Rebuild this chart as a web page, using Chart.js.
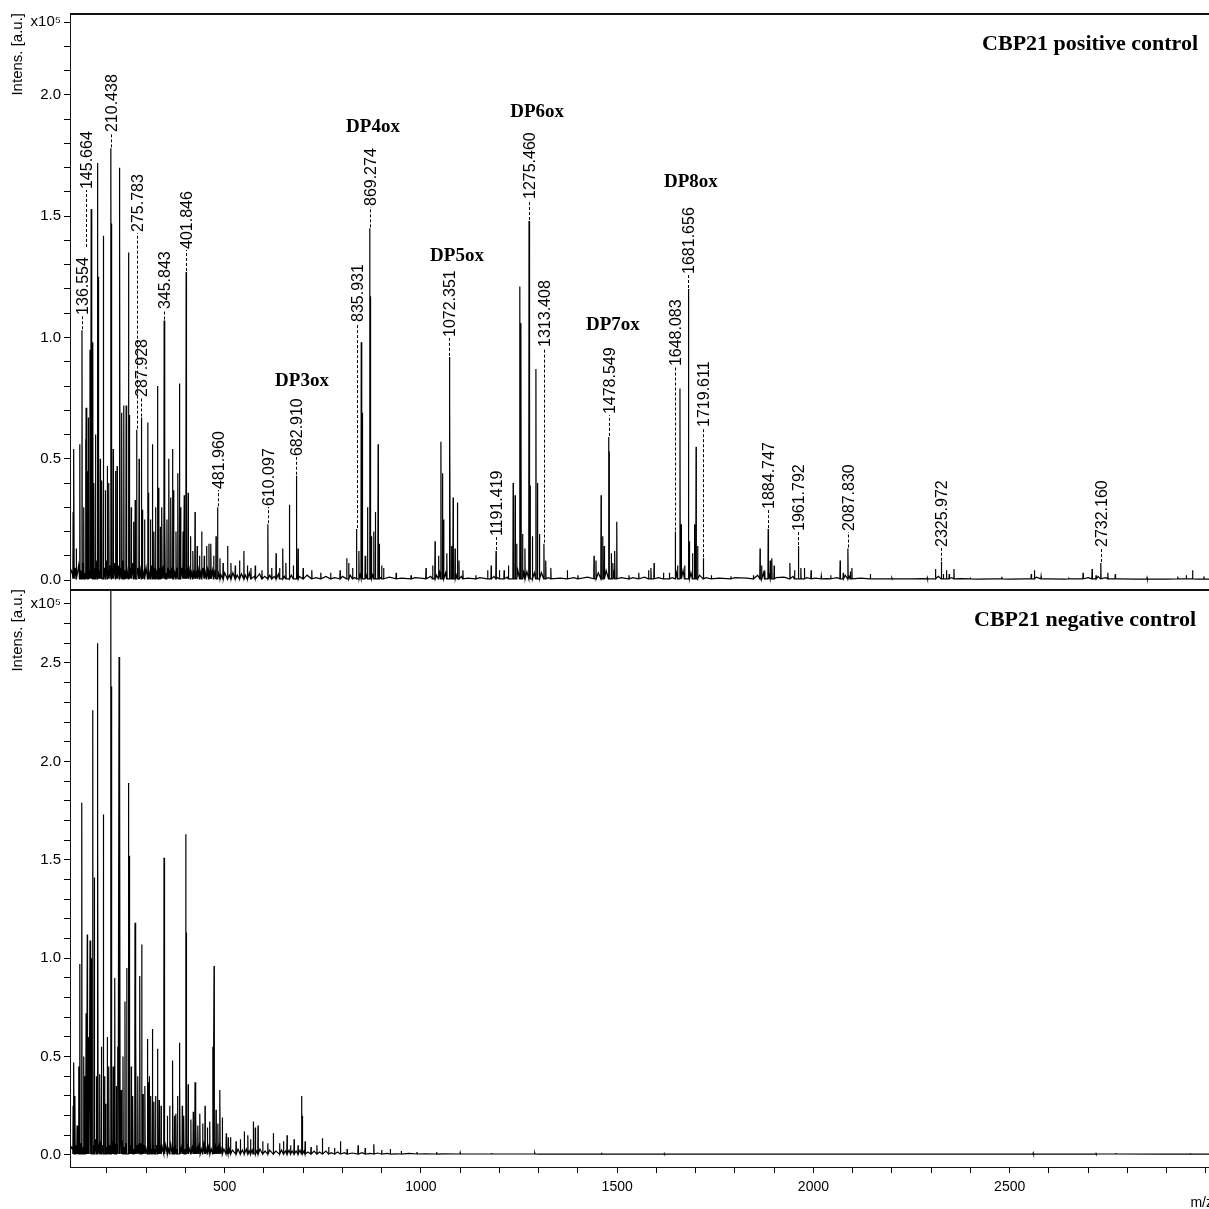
<!DOCTYPE html>
<html lang="en">
<head>
    <meta charset="UTF-8">
    <title>CBP21 MALDI-TOF spectra</title>
    <script src="https://cdn.jsdelivr.net/npm/chart.js"></script>
    <style>
        html, body { margin: 0; padding: 0; overflow: hidden; background: #fff; }
        #topBox { position: absolute; left: 0; top: 0; width: 1216px; height: 590px; }
        #bottomBox { position: absolute; left: 0; top: 589px; width: 1216px; height: 620px; }
    </style>
</head>
<body>
<div id="topBox"><canvas id="posChart"></canvas></div>
<div id="bottomBox"><canvas id="negChart"></canvas></div>
<script>
// m/z range of both panels
const mzMin = 106;
const mzMax = 3018;

// positive control: peak apexes (m/z) and intensities (x10^5 a.u.)
const posMz = [
    114, 116, 122, 131, 136.554, 141, 145.664, 147, 150, 152.6,
    157, 160, 164, 167, 171, 175.6, 178, 183, 187, 191,
    196, 201, 205, 210.438, 212, 216, 222, 226, 231.7, 233,
    238, 243, 249, 254.7, 257, 262, 268, 272, 275.783, 282,
    287.928, 291, 296, 304, 306, 311, 316, 320, 324, 329,
    332, 336, 340, 345.843, 348, 353, 358, 363, 367.6, 370,
    376, 381, 384.6, 388, 394, 397, 401.846, 402.8, 407, 413,
    419, 424.5, 430, 436, 441.5, 448, 454, 460, 465, 472,
    478, 481.96, 488, 496, 507.5, 516, 527, 538, 549, 558,
    567, 578, 595, 610.097, 620, 631, 640, 648, 656, 665,
    675, 682.91, 687, 700, 722, 745, 770, 794, 811, 816,
    826, 835.931, 842, 848, 850.5, 858, 864, 869.274, 871, 874,
    880, 884, 891, 894, 900, 905, 937, 975, 1013, 1030,
    1036, 1045, 1051, 1055, 1058, 1066, 1072.351, 1074, 1078, 1082,
    1087, 1093, 1097, 1107, 1140, 1170, 1179, 1191.419, 1200, 1212,
    1223, 1235, 1240, 1244, 1252, 1255, 1259, 1265, 1275.46, 1278,
    1284, 1293, 1297, 1302, 1313.408, 1318, 1331, 1373, 1400, 1441,
    1446, 1459, 1463, 1467, 1478.549, 1480, 1485, 1489, 1494, 1499,
    1530, 1555, 1580, 1586, 1594, 1618, 1633, 1648.083, 1654, 1660,
    1663, 1672, 1681.656, 1684, 1692, 1697, 1701, 1705, 1719.611, 1740,
    1790, 1847, 1864, 1868, 1876, 1884.747, 1890, 1894, 1900, 1940,
    1952, 1961.792, 1968, 1977, 1994, 2020, 2044, 2068, 2076, 2087.83,
    2094, 2098, 2145, 2200, 2290, 2311, 2325.972, 2331, 2339, 2346,
    2358, 2400, 2480, 2555, 2563, 2580, 2650, 2687, 2710, 2720,
    2732.16, 2750, 2769, 2850, 2928, 2950, 2966, 2995
];
const posInt = [
    0.28, 0.54, 0.13, 0.56, 1.03, 0.30, 0.58, 0.71, 0.45, 0.67,
    0.95, 1.53, 0.98, 0.40, 0.60, 1.72, 1.25, 0.50, 0.41, 1.42,
    0.37, 0.47, 0.40, 1.78, 1.47, 0.54, 0.45, 0.47, 1.70, 1.44,
    0.69, 0.72, 0.72, 1.35, 0.68, 0.30, 0.24, 0.33, 0.62, 0.50,
    0.67, 0.29, 0.25, 0.65, 0.36, 0.25, 0.56, 0.20, 0.30, 0.80,
    0.38, 0.22, 0.30, 1.07, 0.27, 0.25, 0.50, 0.34, 0.54, 0.37,
    0.20, 0.44, 0.81, 0.30, 0.20, 0.35, 1.27, 0.80, 0.36, 0.18,
    0.12, 0.28, 0.14, 0.10, 0.20, 0.10, 0.14, 0.15, 0.15, 0.10,
    0.18, 0.30, 0.09, 0.07, 0.14, 0.07, 0.06, 0.08, 0.12, 0.06,
    0.05, 0.06, 0.04, 0.23, 0.05, 0.11, 0.05, 0.13, 0.07, 0.31,
    0.06, 0.43, 0.13, 0.05, 0.04, 0.03, 0.03, 0.04, 0.09, 0.07,
    0.05, 0.21, 0.12, 0.98, 0.69, 0.10, 0.30, 1.45, 1.17, 0.18,
    0.20, 0.28, 0.56, 0.15, 0.06, 0.05, 0.03, 0.02, 0.05, 0.06,
    0.16, 0.10, 0.57, 0.44, 0.25, 0.11, 0.92, 0.72, 0.14, 0.34,
    0.13, 0.32, 0.08, 0.04, 0.02, 0.04, 0.06, 0.12, 0.04, 0.04,
    0.06, 0.40, 0.35, 0.15, 1.21, 1.06, 0.19, 0.13, 1.48, 0.39,
    0.18, 0.87, 0.40, 0.19, 0.15, 0.08, 0.05, 0.04, 0.02, 0.10,
    0.08, 0.35, 0.18, 0.14, 0.59, 0.53, 0.11, 0.07, 0.12, 0.24,
    0.02, 0.03, 0.04, 0.05, 0.07, 0.03, 0.03, 0.20, 0.06, 0.79,
    0.23, 0.06, 1.20, 0.16, 0.11, 0.23, 0.55, 0.14, 0.09, 0.02,
    0.015, 0.02, 0.13, 0.06, 0.04, 0.21, 0.08, 0.09, 0.06, 0.07,
    0.04, 0.14, 0.05, 0.05, 0.04, 0.016, 0.02, 0.08, 0.03, 0.13,
    0.035, 0.05, 0.025, 0.008, 0.01, 0.045, 0.075, 0.025, 0.04, 0.025,
    0.045, 0.01, 0.013, 0.025, 0.04, 0.015, 0.01, 0.03, 0.045, 0.02,
    0.07, 0.03, 0.025, 0.01, 0.015, 0.02, 0.04, 0.015
];

// positive control: baseline between the peaks
const posNoiseMz = [
    106, 109, 112, 119, 125, 128, 133, 139, 143, 149,
    155, 162, 169, 173, 180, 185, 194, 199, 203, 208,
    214, 219, 224, 229, 236, 241, 246, 251, 260, 266,
    270, 278, 285, 290, 294, 300, 308, 314, 318, 322,
    327, 334, 338, 343, 350, 356, 361, 366, 373, 379,
    386, 391, 399, 405, 410, 416, 422, 428, 433, 439,
    445, 451, 457, 463, 469, 475, 484, 491, 500, 512,
    521, 532, 543, 553, 563, 575, 589, 602, 615, 626,
    637, 652, 670, 690, 710, 733, 758, 780, 800, 820,
    831, 845, 860, 877, 898, 920, 950, 985, 1000, 1025,
    1040, 1048, 1063, 1090, 1103, 1120, 1150, 1186, 1195, 1220,
    1247, 1262, 1270, 1289, 1307, 1325, 1355, 1390, 1425, 1452,
    1472, 1492, 1510, 1540, 1570, 1605, 1640, 1651, 1668, 1688,
    1710, 1726, 1760, 1800, 1830, 1858, 1873, 1887, 1905, 1925,
    1948, 1983, 2005, 2035, 2060, 2081, 2091, 2120, 2160, 2200,
    2250, 2280, 2318, 2352, 2375, 2420, 2460, 2500, 2540, 2568,
    2600, 2640, 2680, 2700, 2725, 2745, 2780, 2820, 2860, 2900,
    2940, 2980, 3018
];
const posNoiseInt = [
    0.01, 0.04, 0.03, 0.05, 0.03, 0.06, 0.04, 0.07, 0.03, 0.05,
    0.04, 0.06, 0.05, 0.08, 0.04, 0.07, 0.05, 0.08, 0.04, 0.06,
    0.05, 0.07, 0.04, 0.06, 0.05, 0.08, 0.04, 0.06, 0.05, 0.07,
    0.03, 0.05, 0.04, 0.06, 0.03, 0.05, 0.03, 0.06, 0.03, 0.05,
    0.03, 0.05, 0.03, 0.04, 0.03, 0.05, 0.04, 0.05, 0.03, 0.05,
    0.04, 0.05, 0.03, 0.05, 0.04, 0.03, 0.04, 0.03, 0.04, 0.03,
    0.05, 0.03, 0.04, 0.03, 0.04, 0.03, 0.03, 0.02, 0.03, 0.02,
    0.03, 0.02, 0.025, 0.02, 0.03, 0.015, 0.025, 0.015, 0.02, 0.015,
    0.025, 0.015, 0.02, 0.015, 0.02, 0.01, 0.015, 0.01, 0.015, 0.02,
    0.01, 0.02, 0.03, 0.02, 0.01, 0.012, 0.008, 0.01, 0.008, 0.015,
    0.02, 0.03, 0.03, 0.02, 0.015, 0.008, 0.01, 0.015, 0.01, 0.012,
    0.04, 0.03, 0.035, 0.03, 0.03, 0.01, 0.008, 0.01, 0.012, 0.03,
    0.04, 0.03, 0.01, 0.01, 0.012, 0.01, 0.01, 0.03, 0.04, 0.03,
    0.02, 0.01, 0.008, 0.01, 0.008, 0.02, 0.03, 0.02, 0.01, 0.012,
    0.015, 0.01, 0.008, 0.006, 0.01, 0.02, 0.015, 0.008, 0.005, 0.004,
    0.005, 0.006, 0.015, 0.01, 0.006, 0.004, 0.005, 0.004, 0.005, 0.012,
    0.005, 0.004, 0.005, 0.01, 0.015, 0.01, 0.005, 0.004, 0.004, 0.004,
    0.005, 0.004, 0.004
];

// negative control: peak apexes and intensities
const negMz = [
    114, 116, 118.7, 124, 128, 131, 136, 141, 144, 147,
    150, 154, 157, 160, 164, 168, 173, 175.6, 177, 182,
    186, 191, 194, 197, 201, 205, 210, 212, 216, 220,
    224, 228, 231, 233, 236, 241, 246, 250.5, 254.5, 257,
    262, 266, 271.6, 274, 279, 284, 288.7, 292, 297, 303,
    305, 308, 312, 316, 320, 324, 329, 333, 338, 345.5,
    347, 354, 360, 366.6, 368, 372, 376, 380, 384.5, 386,
    392, 396, 400.8, 402, 407, 414, 420, 424.5, 427, 432,
    437, 444, 450, 456, 462, 470, 473, 478, 483, 488,
    494, 504, 509, 515, 529, 540, 550, 559, 566, 573,
    578, 585, 597, 610, 624, 640, 650, 659, 668, 677,
    687, 696, 698, 705, 720, 735, 749, 765, 780, 795,
    812, 840, 858, 880, 900, 922, 950, 990, 1040, 1100,
    1180, 1290, 1460, 1620, 2560, 2720, 2770, 2960
];
const negInt = [
    0.25, 0.47, 0.30, 0.15, 0.45, 0.97, 1.79, 0.50, 0.40, 0.72,
    1.12, 0.60, 1.09, 1.00, 2.26, 1.41, 0.40, 2.60, 1.79, 0.41,
    0.55, 1.73, 0.40, 0.26, 0.60, 0.45, 2.95, 2.38, 0.45, 0.90,
    0.35, 0.55, 2.53, 2.00, 0.33, 0.50, 0.78, 0.95, 1.89, 1.52,
    0.45, 0.30, 1.18, 0.68, 0.40, 0.91, 1.07, 0.31, 0.35, 0.59,
    0.37, 0.40, 0.30, 0.64, 0.27, 0.30, 0.54, 0.28, 0.25, 1.51,
    0.33, 0.20, 0.25, 0.48, 0.36, 0.20, 0.21, 0.30, 0.57, 0.37,
    0.25, 0.20, 1.63, 1.13, 0.36, 0.18, 0.22, 0.37, 0.18, 0.15,
    0.21, 0.16, 0.25, 0.14, 0.17, 0.55, 0.96, 0.23, 0.16, 0.33,
    0.19, 0.11, 0.09, 0.09, 0.07, 0.08, 0.12, 0.10, 0.08, 0.17,
    0.14, 0.15, 0.07, 0.06, 0.11, 0.06, 0.07, 0.10, 0.05, 0.08,
    0.05, 0.30, 0.20, 0.07, 0.04, 0.05, 0.085, 0.04, 0.035, 0.07,
    0.03, 0.05, 0.035, 0.055, 0.025, 0.03, 0.02, 0.015, 0.015, 0.012,
    0.01, 0.01, 0.012, 0.008, 0.01, 0.008, 0.01, 0.006
];

// negative control: baseline between the peaks
const negNoiseMz = [
    106, 110, 113, 121, 126, 133, 139, 145, 152, 159,
    166, 171, 180, 184, 189, 195, 199, 203, 207, 214,
    218, 222, 226, 238, 243, 248, 260, 264, 269, 277,
    282, 286, 290, 295, 300, 310, 314, 318, 322, 327,
    331, 336, 341, 350, 357, 363, 370, 374, 378, 390,
    394, 398, 405, 410, 418, 423, 430, 435, 441, 447,
    453, 459, 466, 476, 481, 486, 491, 498, 506, 512,
    520, 534, 545, 555, 563, 570, 581, 590, 603, 615,
    630, 645, 655, 664, 672, 682, 692, 702, 712, 728,
    742, 758, 772, 788, 805, 825, 850, 870, 890, 915,
    940, 970, 1010, 1060, 1120, 1200, 1300, 1400, 1500, 1700,
    1900, 2100, 2300, 2500, 2700, 2900, 3018
];
const negNoiseInt = [
    0.02, 0.04, 0.03, 0.05, 0.03, 0.06, 0.04, 0.07, 0.04, 0.06,
    0.05, 0.08, 0.04, 0.07, 0.05, 0.08, 0.04, 0.06, 0.05, 0.07,
    0.04, 0.06, 0.05, 0.08, 0.04, 0.06, 0.05, 0.07, 0.03, 0.05,
    0.04, 0.06, 0.03, 0.05, 0.03, 0.06, 0.03, 0.05, 0.03, 0.05,
    0.03, 0.05, 0.04, 0.05, 0.03, 0.05, 0.04, 0.05, 0.03, 0.04,
    0.05, 0.03, 0.04, 0.03, 0.04, 0.05, 0.03, 0.04, 0.03, 0.05,
    0.03, 0.04, 0.03, 0.04, 0.03, 0.04, 0.03, 0.03, 0.025, 0.03,
    0.025, 0.03, 0.025, 0.03, 0.02, 0.025, 0.02, 0.03, 0.02, 0.025,
    0.02, 0.025, 0.02, 0.025, 0.02, 0.02, 0.025, 0.02, 0.015, 0.02,
    0.015, 0.02, 0.012, 0.015, 0.012, 0.01, 0.012, 0.008, 0.01, 0.008,
    0.006, 0.008, 0.006, 0.006, 0.005, 0.005, 0.004, 0.004, 0.004, 0.004,
    0.004, 0.004, 0.004, 0.004, 0.004, 0.004, 0.004
];

// labelled peaks in the positive control
const posLabelMz = [136.554, 145.664, 210.438, 275.783, 287.928, 345.843, 401.846, 481.96, 610.097,
    682.91, 835.931, 869.274, 1072.351, 1191.419, 1275.46, 1313.408, 1478.549, 1648.083, 1681.656,
    1719.611, 1884.747, 1961.792, 2087.83, 2325.972, 2732.16];
// intensity where each rotated label starts
const posLabelAt = [1.089, 1.608, 1.843, 1.431, 0.751, 1.113, 1.361, 0.371, 0.301, 0.507, 1.060, 1.538,
    0.998, 0.177, 1.567, 0.957, 0.680, 0.878, 1.258, 0.627, 0.289, 0.198, 0.198, 0.132, 0.132];
// leader end when it stops above another label (null = goes to the peak)
const posLeaderEnd = [null, 1.369, null, null, null, null, null, null, null, null, null, null, null,
    null, null, null, null, null, null, null, null, null, null, null, null];

// oligomer annotations
const dpText = ['DP3ox', 'DP4ox', 'DP5ox', 'DP6ox', 'DP7ox', 'DP8ox'];
const dpMz = [697, 878, 1092, 1296, 1489, 1688];
const dpAt = [0.80, 1.847, 1.315, 1.909, 1.031, 1.621];

const FOOT = 0.005;
const SANS = '"Liberation Sans", Arial, sans-serif';
const SERIF = '"Liberation Serif", "Times New Roman", serif';

// stick spectrum: every apex gets two narrow feet, merged with the baseline points
function buildTrace(mz, inten, noiseMz, noiseInt) {
    const pts = [];
    noiseMz.forEach((m, i) => pts.push({ x: m, y: noiseInt[i] }));
    mz.forEach((m, i) => {
        pts.push({ x: m - 0.7, y: FOOT });
        pts.push({ x: m, y: inten[i] });
        pts.push({ x: m + 0.7, y: FOOT });
    });
    pts.sort((a, b) => a.x - b.x);
    return pts;
}

function yScale(min, max, topTick) {
    return {
        type: 'linear',
        min: min,
        max: max,
        afterFit(s) { s.width = 70; s.paddingTop = 0; s.paddingBottom = 0; },
        border: { display: true, color: '#000', width: 1 },
        grid: { display: true, drawOnChartArea: false, drawTicks: true, tickLength: 6, color: '#000', tickColor: '#000' },
        ticks: {
            stepSize: 0.1,
            autoSkip: false,
            includeBounds: false,
            padding: 3,
            color: '#000',
            font: { family: SANS, size: 15 },
            callback(v) {
                const t = Math.round(v * 10);
                if (t === topTick) return 'x10\u2075';
                return t % 5 === 0 ? (t / 10).toFixed(1) : '';
            }
        },
        title: {
            display: true,
            text: 'Intens. [a.u.]',
            align: 'end',
            color: '#000',
            font: { family: SANS, size: 15 },
            padding: { top: 9, bottom: 0 }
        }
    };
}

function notesPlugin(cfg) {
    return {
        id: 'notes',
        afterDraw(chart) {
            const { ctx, chartArea: a, scales: { x, y } } = chart;
            ctx.save();
            // frame round the plot, top edge a bit heavier
            ctx.strokeStyle = '#111';
            ctx.lineWidth = 1;
            ctx.strokeRect(a.left + 0.5, a.top + 0.5, a.right - a.left, a.bottom - a.top);
            ctx.lineWidth = 2;
            ctx.beginPath();
            ctx.moveTo(a.left, a.top + 1);
            ctx.lineTo(a.right, a.top + 1);
            ctx.stroke();

            // rotated peak labels with dashed leaders
            ctx.font = '16px ' + SANS;
            ctx.fillStyle = '#000';
            ctx.textAlign = 'left';
            ctx.textBaseline = 'middle';
            ctx.lineWidth = 1;
            (cfg.labelMz || []).forEach((m, i) => {
                const px = Math.round(x.getPixelForValue(m)) + 0.5;
                const k = cfg.mz.indexOf(m);
                const endVal = cfg.leaderEnd[i] != null ? cfg.leaderEnd[i] : cfg.inten[k];
                const yEnd = y.getPixelForValue(endVal);
                const yText = y.getPixelForValue(cfg.labelAt[i]);
                ctx.strokeStyle = '#000';
                ctx.setLineDash([3, 2]);
                ctx.beginPath();
                ctx.moveTo(px, yEnd - 1);
                ctx.lineTo(px, yText);
                ctx.stroke();
                ctx.setLineDash([]);
                ctx.save();
                ctx.translate(px + 1, yText - 1);
                ctx.rotate(-Math.PI / 2);
                ctx.fillText(m.toFixed(3), 0, 0);
                ctx.restore();
            });

            // DP annotations
            ctx.font = 'bold 19px ' + SERIF;
            ctx.fillStyle = '#000';
            ctx.textAlign = 'center';
            ctx.textBaseline = 'alphabetic';
            (cfg.dpText || []).forEach((t, i) => {
                ctx.fillText(t, x.getPixelForValue(cfg.dpMz[i]), y.getPixelForValue(cfg.dpAt[i]));
            });

            // panel title
            ctx.font = 'bold 22px ' + SERIF;
            ctx.textAlign = 'right';
            ctx.fillText(cfg.title, a.right - cfg.titleRight, a.top + 37);
            ctx.restore();
        }
    };
}

Chart.defaults.animation = false;

new Chart(document.getElementById('posChart'), {
    type: 'line',
    data: {
        datasets: [{
            data: buildTrace(posMz, posInt, posNoiseMz, posNoiseInt),
            borderColor: '#000',
            borderWidth: 1.2,
            pointRadius: 0,
            tension: 0,
            fill: false
        }]
    },
    options: {
        responsive: true,
        maintainAspectRatio: false,
        layout: { padding: { top: 13, right: 3, bottom: 1, left: 0 } },
        plugins: { legend: { display: false }, tooltip: { enabled: false } },
        scales: {
            x: { type: 'linear', min: mzMin, max: mzMax, display: false },
            y: yScale(-0.037, 2.338, 23)
        }
    },
    plugins: [notesPlugin({
        mz: posMz, inten: posInt,
        labelMz: posLabelMz, labelAt: posLabelAt, leaderEnd: posLeaderEnd,
        dpText: dpText, dpMz: dpMz, dpAt: dpAt,
        title: 'CBP21 positive control', titleRight: 15
    })]
});

new Chart(document.getElementById('negChart'), {
    type: 'line',
    data: {
        datasets: [{
            data: buildTrace(negMz, negInt, negNoiseMz, negNoiseInt),
            borderColor: '#000',
            borderWidth: 1.2,
            pointRadius: 0,
            tension: 0,
            fill: false
        }]
    },
    options: {
        responsive: true,
        maintainAspectRatio: false,
        layout: { padding: { top: 0, right: 3, bottom: 0, left: 0 } },
        plugins: { legend: { display: false }, tooltip: { enabled: false } },
        scales: {
            x: {
                type: 'linear',
                position: 'bottom',
                min: mzMin,
                max: mzMax,
                afterFit(s) { s.height = 42; s.paddingLeft = 0; s.paddingRight = 0; },
                border: { display: true, color: '#000', width: 1 },
                grid: { display: true, drawOnChartArea: false, drawTicks: true, tickLength: 6, color: '#000', tickColor: '#000' },
                ticks: {
                    stepSize: 100,
                    autoSkip: false,
                    includeBounds: false,
                    maxRotation: 0,
                    padding: 6,
                    color: '#000',
                    font: { family: SANS, size: 14 },
                    callback(v) { return (v % 500 === 0 && v < 3000) ? String(v) : ''; }
                },
                title: {
                    display: true,
                    text: 'm/z',
                    align: 'end',
                    color: '#000',
                    font: { family: SANS, size: 14 },
                    padding: { top: 0, bottom: -3 }
                }
            },
            y: yScale(-0.061, 2.876, 28)
        }
    },
    plugins: [notesPlugin({
        mz: negMz, inten: negInt,
        title: 'CBP21 negative control', titleRight: 17
    })]
});
</script>
</body>
</html>
